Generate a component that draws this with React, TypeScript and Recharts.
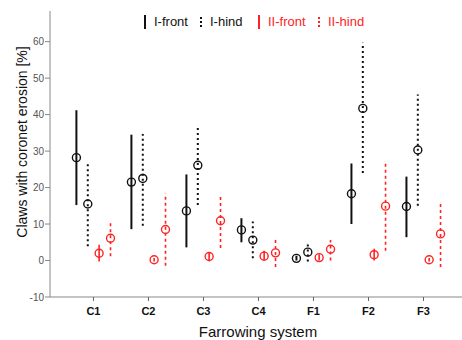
import { ComposedChart, Scatter, ErrorBar, XAxis, YAxis, Label } from 'recharts'

const categories = ['C1', 'C2', 'C3', 'C4', 'F1', 'F2', 'F3']
const yTicks = [-10, 0, 10, 20, 30, 40, 50, 60]

// I-front
const iFrontMean = [28.2, 21.5, 13.6, 8.4, 0.6, 18.3, 14.8]
const iFrontLow = [15.2, 8.6, 3.6, 5.0, 0.0, 10.0, 6.4]
const iFrontHigh = [41.2, 34.5, 23.6, 11.6, 1.3, 26.6, 23.0]

// I-hind
const iHindMean = [15.5, 22.5, 26.1, 5.6, 2.3, 41.7, 30.3]
const iHindLow = [3.9, 9.5, 15.2, 0.6, -0.3, 24.0, 15.0]
const iHindHigh = [27.1, 34.7, 37.1, 10.7, 4.7, 59.7, 45.5]

// II-front
const iiFrontMean = [2.0, 0.2, 1.1, 1.2, 0.8, 1.6, 0.2]
const iiFrontLow = [-0.3, -0.3, -0.2, 0.0, 0.0, 0.0, -0.3]
const iiFrontHigh = [4.3, 0.7, 2.3, 2.7, 1.7, 3.2, 0.7]

// II-hind
const iiHindMean = [6.1, 8.5, 10.9, 2.1, 3.1, 14.9, 7.3]
const iiHindLow = [1.2, -1.4, 3.4, -1.8, 0.0, 2.7, -1.8]
const iiHindHigh = [10.7, 18.4, 18.0, 5.9, 5.6, 27.1, 15.9]

const BLACK = '#111'
const RED = '#f22'
const FONT = '"Liberation Sans", Arial, sans-serif'

function build(mean: number[], low: number[], high: number[], offset: number) {
  return categories.map((c, i) => ({
    name: c,
    x: i + 1 + offset,
    y: mean[i],
    err: [mean[i] - low[i], high[i] - mean[i]],
  }))
}

const series = [
  { key: 'I-front', data: build(iFrontMean, iFrontLow, iFrontHigh, -0.31), color: BLACK, width: 2, dash: undefined },
  { key: 'I-hind', data: build(iHindMean, iHindLow, iHindHigh, -0.103), color: BLACK, width: 2, dash: '2 3' },
  { key: 'II-front', data: build(iiFrontMean, iiFrontLow, iiFrontHigh, 0.103), color: RED, width: 1.6, dash: undefined },
  { key: 'II-hind', data: build(iiHindMean, iiHindLow, iiHindHigh, 0.31), color: RED, width: 1.6, dash: '3 3' },
]

const ring = (color: string) => (props: any) => (
  <circle cx={props.cx} cy={props.cy} r={4} fill="none" stroke={color} strokeWidth={1.4} />
)

function LegendGlyph({ color, dotted }: { color: string; dotted: boolean }) {
  return (
    <svg width={6} height={16} style={{ display: 'block' }}>
      {dotted ? (
        [3, 7, 11].map((y) => <rect key={y} x={2} y={y} width={2} height={2} fill={color} />)
      ) : (
        <line x1={3} x2={3} y1={1} y2={15} stroke={color} strokeWidth={2} />
      )}
    </svg>
  )
}

const legendItems = [
  { label: 'I-front', color: BLACK, dotted: false, left: 142 },
  { label: 'I-hind', color: BLACK, dotted: true, left: 198 },
  { label: 'II-front', color: RED, dotted: false, left: 256 },
  { label: 'II-hind', color: RED, dotted: true, left: 316 },
]

export default function App() {
  return (
    <div style={{ position: 'absolute', left: 0, top: 0, width: 462, height: 340, background: '#fff', fontFamily: FONT }}>
      <ComposedChart width={462} height={340} margin={{ top: 11, right: 0, bottom: 0, left: 0 }} style={{ fontFamily: FONT }}>
        <XAxis
          xAxisId="top"
          orientation="top"
          type="number"
          dataKey="x"
          domain={[0.21, 7.7]}
          allowDataOverflow
          height={0}
          tick={false}
          tickLine={false}
          axisLine={{ stroke: '#999', strokeWidth: 1.5 }}
        />
        <XAxis
          xAxisId="main"
          type="number"
          dataKey="x"
          domain={[0.21, 7.7]}
          allowDataOverflow
          ticks={[1, 2, 3, 4, 5, 6, 7]}
          tickFormatter={(v: number) => categories[v - 1]}
          height={43}
          tickSize={4}
          tickMargin={6}
          axisLine={{ stroke: '#888' }}
          tickLine={{ stroke: '#666' }}
          tick={{ fill: '#111', fontSize: 11, fontWeight: 'bold' }}
        >
          <Label value="Farrowing system" position="insideBottom" offset={3} dx={2} style={{ fontSize: 15, fill: '#111' }} />
        </XAxis>
        <YAxis
          type="number"
          domain={[-10, 68.4]}
          allowDataOverflow
          ticks={yTicks}
          width={50}
          tickSize={5}
          tickMargin={1}
          axisLine={{ stroke: '#888' }}
          tickLine={{ stroke: '#888' }}
          tick={{ fill: '#555', fontSize: 10 }}
        >
          <Label
            content={() => (
              <text
                x={22}
                y={142}
                transform="rotate(-90 22 142)"
                textAnchor="middle"
                dominantBaseline="central"
                style={{ fontSize: 14, fill: '#111', fontFamily: FONT }}
              >
                Claws with coronet erosion [%]
              </text>
            )}
          />
        </YAxis>
        {series.map((s) => (
          <Scatter
            key={s.key}
            name={s.key}
            xAxisId="main"
            data={s.data}
            dataKey="y"
            shape={ring(s.color)}
            isAnimationActive={false}
          >
            <ErrorBar
              dataKey="err"
              direction="y"
              width={0}
              stroke={s.color}
              strokeWidth={s.width}
              strokeDasharray={s.dash}
              isAnimationActive={false}
            />
          </Scatter>
        ))}
      </ComposedChart>
      {legendItems.map((it) => (
        <div
          key={it.label}
          style={{
            position: 'absolute',
            top: 14,
            left: it.left,
            display: 'flex',
            alignItems: 'center',
            gap: 6,
            fontSize: 13,
            color: it.color,
            lineHeight: '16px',
          }}
        >
          <LegendGlyph color={it.color} dotted={it.dotted} />
          <span>{it.label}</span>
        </div>
      ))}
    </div>
  )
}
